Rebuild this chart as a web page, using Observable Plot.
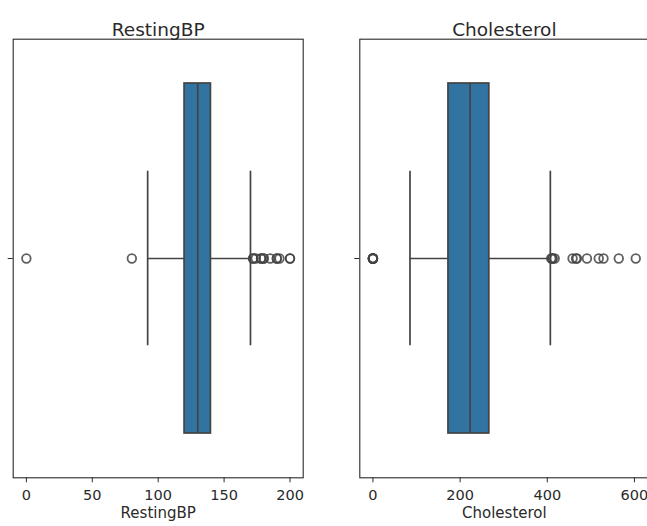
<!DOCTYPE html>
<html><head><meta charset="utf-8">
<script src="https://cdn.jsdelivr.net/npm/d3@7"></script>
<script src="https://cdn.jsdelivr.net/npm/@observablehq/plot@0.6"></script>
<style>
html,body{margin:0;padding:0;background:#fff;overflow:hidden;}
#fig{position:relative;width:647px;height:526px;overflow:hidden;background:#fff;}
#fig svg{position:absolute;top:0;}
</style></head><body><div id="fig"></div>
<script>
// ---- data ----
const panels = ["RestingBP", "Cholesterol"];
const q1 = [120, 173.25];
const medians = [130, 223];
const q3 = [140, 267];
const whiskerLow = [92, 85];
const whiskerHigh = [170, 407];
const restingBPOutliers = [0, 80, 172, 172, 174, 178, 178, 180, 180, 185, 190, 190, 192, 200, 200];
const cholesterolOutliers = [0, 0, 0, 0, 0, 0, 0, 0, 409, 412, 412, 417, 458, 466, 468, 491, 518, 529, 564, 603];
const xTicks = [[0, 50, 100, 150, 200], [0, 200, 400, 600]];

// ---- layout ----
const H = 526, MT = 38.7, MB = 48.7;
const plotH = H - MT - MB;
const boxW = plotH * 0.8;
const capInset = boxW / 4;
const lineColor = "#434343";
const fillColor = "#3274a1";

function panel(i, outliers, svgLeft, svgWidth, mLeft, mRight) {
  const cat = panels[i];
  const stats = [{cat, q1: q1[i], med: medians[i], q3: q3[i], lo: whiskerLow[i], hi: whiskerHigh[i]}];
  const lo = d3.min([...outliers, whiskerLow[i]]);
  const hi = d3.max([...outliers, whiskerHigh[i]]);
  const pad = 0.05 * (hi - lo);
  const svg = Plot.plot({
    width: svgWidth, height: H,
    marginTop: MT, marginBottom: MB, marginLeft: mLeft, marginRight: mRight,
    style: {fontFamily: "DejaVu Sans", fontSize: "14.5px", color: "#2a2a2a", background: "transparent"},
    x: {domain: [lo - pad, hi + pad], ticks: xTicks[i], tickSize: 5, tickPadding: 7, label: null},
    y: {domain: [cat], paddingInner: 0, paddingOuter: 0.125, align: 0.5, tickSize: 5, tickFormat: () => "", label: null},
    marks: [
      Plot.ruleY(stats, {y: "cat", x1: "lo", x2: "q1", stroke: lineColor, strokeWidth: 1.7}),
      Plot.ruleY(stats, {y: "cat", x1: "q3", x2: "hi", stroke: lineColor, strokeWidth: 1.7}),
      Plot.tickX(stats, {x: "lo", y: "cat", insetTop: capInset, insetBottom: capInset, stroke: lineColor, strokeWidth: 1.7}),
      Plot.tickX(stats, {x: "hi", y: "cat", insetTop: capInset, insetBottom: capInset, stroke: lineColor, strokeWidth: 1.7}),
      Plot.barX(stats, {x1: "q1", x2: "q3", y: "cat", inset: 0, fill: fillColor, stroke: lineColor, strokeWidth: 1.7}),
      Plot.tickX(stats, {x: "med", y: "cat", stroke: lineColor, strokeWidth: 1.7}),
      Plot.dot(outliers, {x: d => d, y: () => cat, r: 4.3, fill: "none", stroke: lineColor, strokeWidth: 1.8, strokeOpacity: 0.85}),
      Plot.frame({stroke: "#2a2a2a", strokeWidth: 1.1}),
      Plot.text([cat], {frameAnchor: "top", dy: -16.3, fontSize: 18.5, fill: "#2a2a2a"}),
      Plot.text([cat], {frameAnchor: "bottom", dy: 40.5, fontSize: 15, fill: "#2a2a2a"})
    ]
  });
  svg.style.left = svgLeft + "px";
  return svg;
}

const fig = document.getElementById("fig");
fig.appendChild(panel(0, restingBPOutliers, 0, 330, 12.7, 27.3));
fig.appendChild(panel(1, cholesterolOutliers, 330, 330, 29.3, 11.6));
</script>
</body></html>
